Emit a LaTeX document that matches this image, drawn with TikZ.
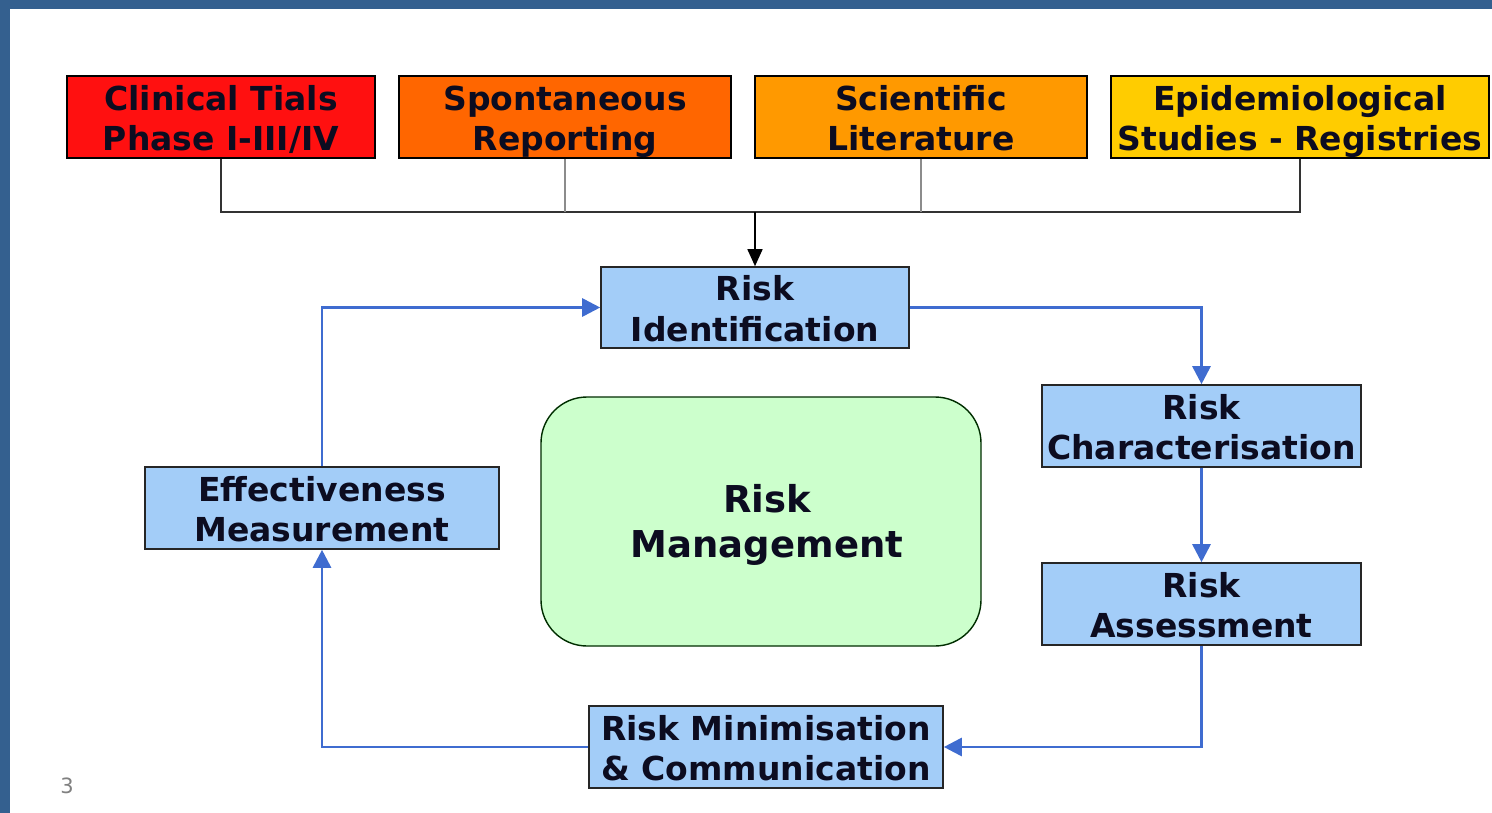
\documentclass[tikz,border=0pt]{standalone}
\usepackage{fontspec}
\setmainfont{DejaVu Sans}
\usetikzlibrary{arrows.meta}
\definecolor{frameblue}{HTML}{34608F}
\definecolor{cred}{HTML}{FF1010}
\definecolor{corange}{HTML}{FF6600}
\definecolor{camber}{HTML}{FF9900}
\definecolor{cyellow}{HTML}{FFCC00}
\definecolor{boxblue}{HTML}{A3CDF8}
\definecolor{boxgreen}{HTML}{CCFFCC}
\definecolor{flowblue}{HTML}{3F6CD0}
\definecolor{inktext}{HTML}{0C0C20}
% fixed line struts so every two-line label sits the same way in its box
\newcommand\rowA{\rule[-8pt]{0pt}{42pt}}
\newcommand\rowB{\rule[-7pt]{0pt}{35pt}}
\begin{document}
\begin{tikzpicture}[x=1pt,y=-1pt,
  lbl/.style={font=\bfseries\fontsize{33}{40}\selectfont, text=inktext, align=center, inner sep=0pt},
  srcbox/.style={lbl, draw=black, line width=1.6pt, minimum height=82pt},
  stagebox/.style={lbl, draw=black!85, line width=1.6pt, fill=boxblue, minimum height=82pt},
  feed/.style={draw=black!80, line width=1.6pt},
  flow/.style={draw=flowblue, line width=2.8pt, -{Triangle[length=18pt,width=18pt]}}]
\useasboundingbox (0,0) rectangle (1492,813);
\fill[white] (0,0) rectangle (1492,813);
% slide frame
\fill[frameblue] (0,0) rectangle (1492,9);
\fill[frameblue] (0,0) rectangle (10,813);

% data sources
\node[srcbox, fill=cred, minimum width=308pt] (clin) at (221,117) {\rowA Clinical Tials\\\rowB Phase I-III/IV};
\node[srcbox, fill=corange, minimum width=332pt] (spon) at (565,117) {\rowA Spontaneous\\\rowB Reporting};
\node[srcbox, fill=camber, minimum width=332pt] (sci) at (921,117) {\rowA Scientific\\\rowB Literature};
\node[srcbox, fill=cyellow, minimum width=378pt] (epi) at (1300,117) {\rowA Epidemiological\\\rowB Studies - Registries};

% cycle stages
\node[stagebox, minimum width=308pt, minimum height=81pt] (rid) at (755,307.5) {\rowA Risk\\\rowB Identification};
\node[stagebox, minimum width=319pt] (rchar) at (1201.5,426) {\rowA Risk\\\rowB Characterisation};
\node[stagebox, minimum width=319pt] (rass) at (1201.5,604) {\rowA Risk\\\rowB Assessment};
\node[stagebox, minimum width=354pt] (rmin) at (766,747) {\rowA Risk Minimisation\\\rowB\& Communication};
\node[stagebox, minimum width=354pt] (eff) at (322,508) {\rowA Effectiveness\\\rowB Measurement};

% centre
\node[draw=black!70!green!60!black, line width=1.4pt, fill=boxgreen, rounded corners=46pt,
      minimum width=440pt, minimum height=249pt, inner sep=0pt] (rm) at (761,521.5) {};
\node[lbl, font=\bfseries\fontsize{37}{45}\selectfont] (rmtext) at (767,525) {Risk\\Management};

% feed lines from the sources
\coordinate (bus) at (755,212);
\draw[feed] (clin.south) |- (bus);
\draw[feed] (epi.south) |- (bus);
\draw[feed, draw=black!45] (spon.south) -- (spon.south |- bus);
\draw[feed, draw=black!45] (sci.south) -- (sci.south |- bus);
\draw[feed, draw=black, -{Triangle[length=17pt,width=15pt]}] (bus) -- (rid.north);

% management cycle
\draw[flow] (rid.east) -| (rchar.north);
\draw[flow] (rchar.south) -- (rass.north);
\draw[flow] (rass.south) |- (rmin.east);
\draw[flow] (rmin.west) -| (eff.south);
\draw[flow] (eff.north) |- (rid.west);

% slide number
\node[text=black!50, font=\fontsize{21}{25}\selectfont, inner sep=0pt] (pg) at (67,786) {3};
\end{tikzpicture}
\end{document}
